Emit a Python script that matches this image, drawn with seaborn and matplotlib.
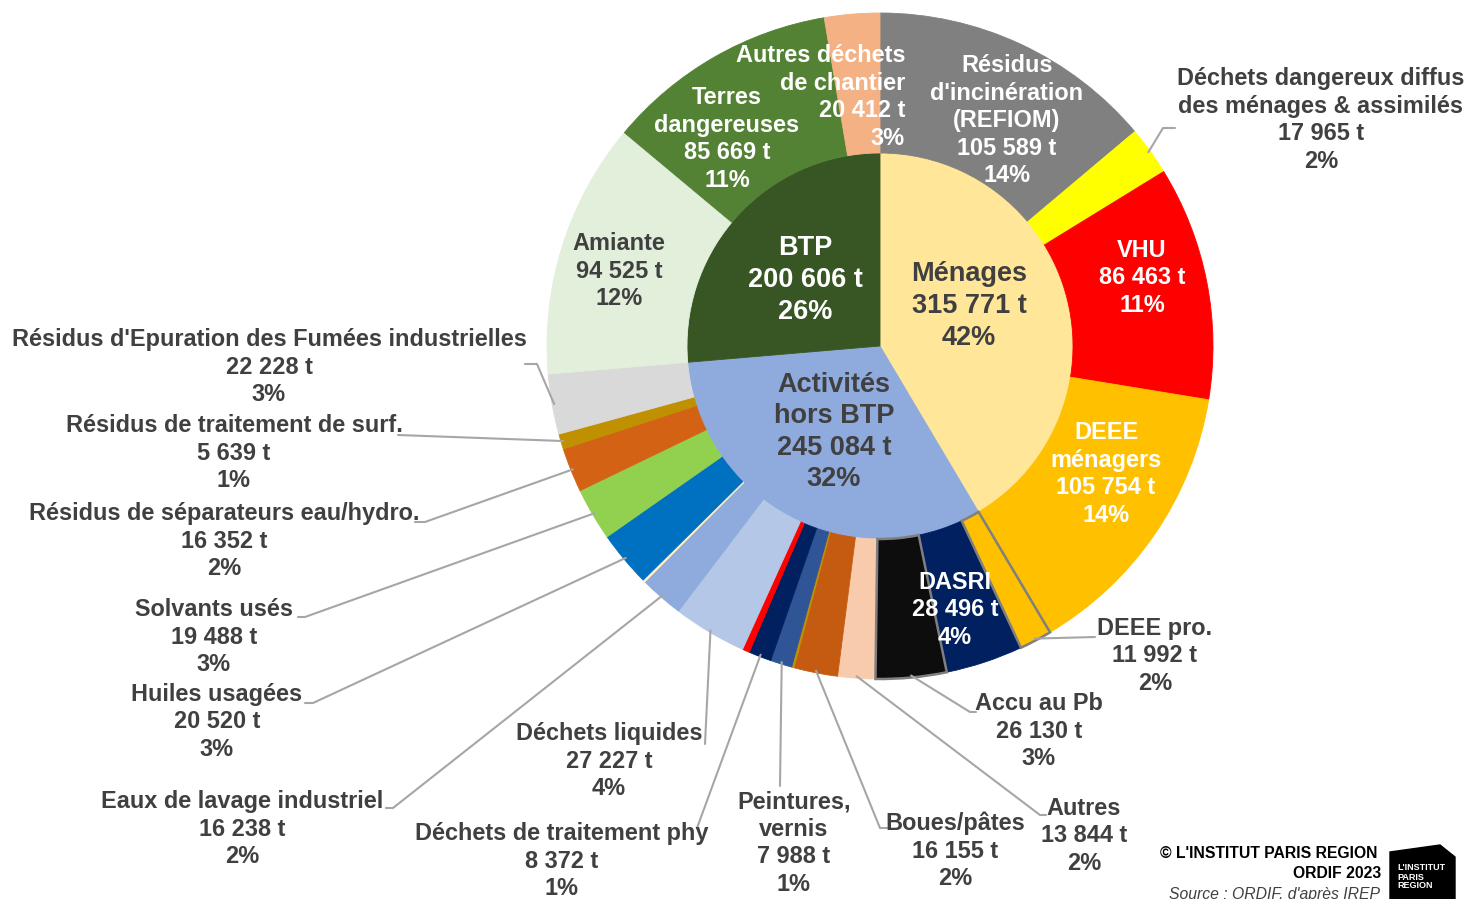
import numpy as np
import matplotlib
matplotlib.use("Agg")
import matplotlib.pyplot as plt
from matplotlib.patches import Polygon
import seaborn as sns

W, H = 1468, 899

# inner ring: sectors
inner_names = ["Ménages", "Activités\nhors BTP", "BTP"]
inner_values = [315771, 245084, 200606]
inner_pct = [42, 32, 26]

# outer ring: waste types, clockwise from 12 o'clock ("" = unlabelled slivers)
outer_names = [
    "Résidus\nd'incinération\n(REFIOM)",
    "Déchets dangereux diffus\ndes ménages & assimilés",
    "VHU",
    "DEEE\nménagers",
    "DEEE pro.",
    "DASRI",
    "Accu au Pb",
    "Autres",
    "Boues/pâtes",
    "",
    "Peintures,\nvernis",
    "Déchets de traitement phy",
    "",
    "Déchets liquides",
    "Eaux de lavage industriel",
    "",
    "Huiles usagées",
    "Solvants usés",
    "Résidus de séparateurs eau/hydro.",
    "Résidus de traitement de surf.",
    "Résidus d'Epuration des Fumées industrielles",
    "Amiante",
    "Terres\ndangereuses",
    "Autres déchets\nde chantier",
]
outer_values = [105589, 17965, 86463, 105754, 11992, 28496, 26130, 13844, 16155,
                885, 7988, 8372, 2650, 27227, 16238, 880, 20520, 19488, 16352,
                5639, 22228, 94525, 85669, 20412]
outer_pct = [14, 2, 11, 14, 2, 4, 3, 2, 2, None, 1, 1, None, 4, 2, None, 3, 3, 2,
             1, 3, 12, 11, 3]

inner_colors = ["#ffe699", "#8faadc", "#375623"]
outer_colors = ["#808080", "#ffff00", "#ff0000", "#ffc000", "#ffc000", "#002060",
                "#0d0d0d", "#f8cbad", "#c55a11", "#bf9000", "#2f5597", "#002060",
                "#ff0000", "#b4c7e7", "#8faadc", "#fff2cc", "#0070c0", "#92d050",
                "#d46215", "#bf9000", "#d9d9d9", "#e2efda", "#548235", "#f4b183"]

DARK = "#404040"
LINE = "#a6a6a6"
CX, CY = 880, 346
R_OUT, R_IN = 333, 193


def fmt(v, p):
    return f"{v:,} t".replace(",", " ") + f"\n{p}%"


def main():
    sns.set_theme(style="white")
    plt.rcParams["font.family"] = ["Liberation Sans", "DejaVu Sans"]

    fig = plt.figure(figsize=(W / 100, H / 100), dpi=100)
    ax = fig.add_axes([0, 0, 1, 1])

    center = (CX, H - CY)
    inner_w, _ = ax.pie(inner_values, radius=R_IN, center=center, colors=inner_colors,
                        startangle=90, counterclock=False,
                        wedgeprops=dict(linewidth=0.6))
    outer_w, _ = ax.pie(outer_values, radius=R_OUT, center=center, colors=outer_colors,
                        startangle=90, counterclock=False,
                        wedgeprops=dict(width=R_OUT - R_IN, linewidth=0.6))
    for w in list(inner_w) + list(outer_w):
        w.set_edgecolor(w.get_facecolor())
    for i in (4, 6):
        outer_w[i].set_edgecolor("#7f7f7f")
        outer_w[i].set_linewidth(1.8)
        outer_w[i].set_zorder(3)

    ax.set_xlim(0, W)
    ax.set_ylim(0, H)
    ax.set_aspect("equal")
    ax.axis("off")

    # inner labels
    inner_pos = [(969, 306, DARK), (834, 432, DARK), (805, 280, "white")]
    for name, v, p, (x, y, c) in zip(inner_names, inner_values, inner_pct, inner_pos):
        ax.text(x, H - y, name + "\n" + fmt(v, p), ha="center", va="center",
                fontsize=19.5, fontweight="bold", color=c, linespacing=1.28, zorder=5)

    # outer labels: x, y, ha, colour, leader path (pixel points)
    layout = {
        0: (1007, 121, "center", "white", None),
        1: (1321, 120, "center", DARK, [(1163, 128), (1175, 128)]),
        2: (1142, 278, "center", "white", None),
        3: (1106, 474, "center", "white", None),
        4: (1155, 656, "center", DARK, [(1095, 637)]),
        5: (955, 610, "center", "white", None),
        6: (1039, 731, "center", DARK, [(970, 712), (976, 712)]),
        7: (1084, 836, "center", DARK, [(1040, 815), (1046, 815)]),
        8: (955, 851, "center", DARK, [(880, 828), (887, 828)]),
        10: (794, 843, "center", DARK, [(780, 786)]),
        11: (562, 861, "center", DARK, [(697, 828)]),
        13: (609, 761, "center", DARK, [(705, 744)]),
        14: (242, 829, "center", DARK, [(393, 808), (386, 808)]),
        16: (217, 722, "center", DARK, [(313, 703), (305, 703)]),
        17: (214, 637, "center", DARK, [(305, 617), (298, 617)]),
        18: (224, 541, "center", DARK, [(425, 522), (415, 522)]),
        19: (234, 453, "center", DARK, [(398, 435)]),
        20: (269, 367, "center", DARK, [(537, 364), (525, 364)]),
        21: (619, 271, "center", DARK, None),
        22: (727, 139, "center", "white", None),
        23: (905, 97, "right", "white", None),
    }
    for i, (x, y, ha, c, path) in layout.items():
        label = outer_names[i] + "\n" + fmt(outer_values[i], outer_pct[i])
        ax.text(x, H - y, label, ha=ha, va="center", fontsize=16.9, fontweight="bold",
                color=c, linespacing=1.25, zorder=6)
        if path:
            w = outer_w[i]
            mid = np.radians((w.theta1 + w.theta2) / 2)
            xs = [CX + (R_OUT - 2) * np.cos(mid)] + [p[0] for p in path]
            ys = [H - CY + (R_OUT - 2) * np.sin(mid)] + [H - p[1] for p in path]
            ax.plot(xs, ys, color=LINE, lw=1.5, zorder=4)

    # footer
    ax.text(1377, H - 853, "© L'INSTITUT PARIS REGION", ha="right", va="center",
            fontsize=11.3, fontweight="bold", color="black")
    ax.text(1381, H - 874, "ORDIF 2023", ha="right", va="center",
            fontsize=11.3, fontweight="bold", color="black")
    ax.text(1380, H - 895, "Source : ORDIF, d'après IREP", ha="right", va="center",
            fontsize=11.3, fontstyle="italic", color=DARK)
    logo = Polygon([(1390, H - 852), (1440, H - 845), (1455, H - 857),
                    (1455, H - 899), (1390, H - 899)], closed=True, color="black")
    ax.add_patch(logo)
    for txt, yy in [("L'INSTITUT", 867), ("PARIS", 877), ("REGION", 886)]:
        ax.text(1397, H - yy, txt, ha="left", va="center", fontsize=6.5,
                fontweight="bold", color="white")

    fig.savefig("out.png", dpi=100)
    plt.close(fig)


if __name__ == "__main__":
    main()
